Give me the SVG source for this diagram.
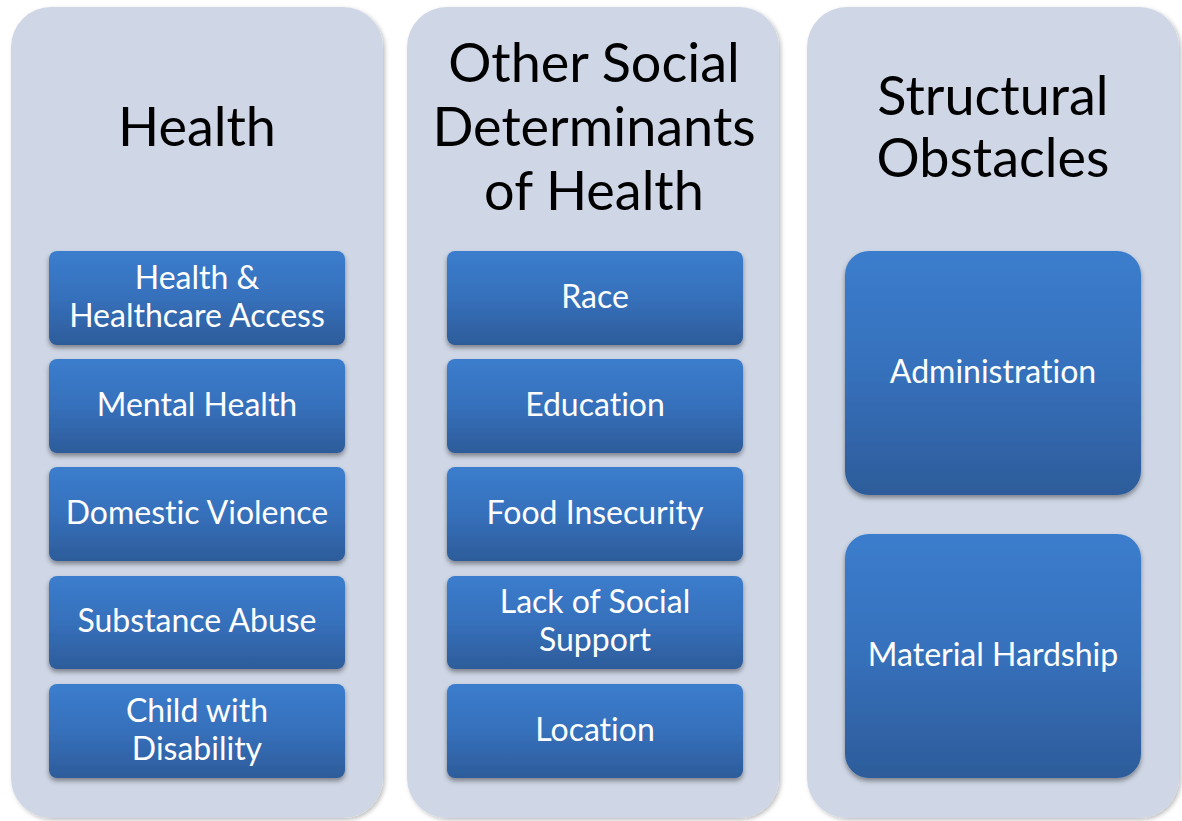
<svg xmlns="http://www.w3.org/2000/svg" width="1182" height="821" viewBox="0 0 1182 821">
  <defs>
    <linearGradient id="boxFill" x1="0" y1="0" x2="0" y2="1">
      <stop offset="0" stop-color="#3b7dcd"/>
      <stop offset="0.5" stop-color="#3670bb"/>
      <stop offset="1" stop-color="#2d5c9a"/>
    </linearGradient>
    <filter id="colShadow" x="-10%" y="-10%" width="120%" height="120%">
      <feDropShadow dx="2" dy="2" stdDeviation="2" flood-color="#000" flood-opacity="0.25"/>
    </filter>
    <filter id="boxShadow" x="-10%" y="-20%" width="120%" height="150%">
      <feDropShadow dx="0" dy="3" stdDeviation="2.5" flood-color="#000" flood-opacity="0.4"/>
    </filter>
  </defs>
  <style>
    .col { fill: #cfd7e6; filter: url(#colShadow); }
    .box { fill: url(#boxFill); filter: url(#boxShadow); }
    .title { font-family: Lato, "Liberation Sans", sans-serif; font-size: 54px; fill: #000; text-anchor: middle; font-variant-ligatures: none; }
    .label { font-family: Lato, "Liberation Sans", sans-serif; font-size: 32px; fill: #fff; text-anchor: middle; font-variant-ligatures: none; }
  </style>
  <rect width="1182" height="821" fill="#ffffff"/>

  <!-- Column 1: Health -->
  <g id="col-health">
    <rect class="col" x="11" y="7" width="372" height="811" rx="40"/>
    <text class="title" x="197" y="146">Health</text>
  </g>
  <g id="n-health-access">
    <rect class="box" x="49" y="251" width="296" height="94" rx="8"/>
    <text class="label" x="197" y="289">Health &amp;</text>
    <text class="label" x="197" y="327">Healthcare Access</text>
  </g>
  <g id="n-mental-health">
    <rect class="box" x="49" y="359" width="296" height="94" rx="8"/>
    <text class="label" x="197" y="416">Mental Health</text>
  </g>
  <g id="n-domestic-violence">
    <rect class="box" x="49" y="467" width="296" height="94" rx="8"/>
    <text class="label" x="197" y="524">Domestic Violence</text>
  </g>
  <g id="n-substance-abuse">
    <rect class="box" x="49" y="576" width="296" height="93" rx="8"/>
    <text class="label" x="197" y="632">Substance Abuse</text>
  </g>
  <g id="n-child-disability">
    <rect class="box" x="49" y="684" width="296" height="94" rx="8"/>
    <text class="label" x="197" y="722">Child with</text>
    <text class="label" x="197" y="760">Disability</text>
  </g>

  <!-- Column 2: Other Social Determinants of Health -->
  <g id="col-social">
    <rect class="col" x="407" y="7" width="372" height="811" rx="40"/>
    <text class="title" x="594" y="82">Other Social</text>
    <text class="title" x="594" y="146">Determinants</text>
    <text class="title" x="594" y="210">of Health</text>
  </g>
  <g id="n-race">
    <rect class="box" x="447" y="251" width="296" height="94" rx="8"/>
    <text class="label" x="595" y="308">Race</text>
  </g>
  <g id="n-education">
    <rect class="box" x="447" y="359" width="296" height="94" rx="8"/>
    <text class="label" x="595" y="416">Education</text>
  </g>
  <g id="n-food-insecurity">
    <rect class="box" x="447" y="467" width="296" height="94" rx="8"/>
    <text class="label" x="595" y="524">Food Insecurity</text>
  </g>
  <g id="n-social-support">
    <rect class="box" x="447" y="576" width="296" height="93" rx="8"/>
    <text class="label" x="595" y="613">Lack of Social</text>
    <text class="label" x="595" y="651">Support</text>
  </g>
  <g id="n-location">
    <rect class="box" x="447" y="684" width="296" height="94" rx="8"/>
    <text class="label" x="595" y="741">Location</text>
  </g>

  <!-- Column 3: Structural Obstacles -->
  <g id="col-structural">
    <rect class="col" x="807" y="7" width="372" height="811" rx="40"/>
    <text class="title" x="993" y="115">Structural</text>
    <text class="title" x="993" y="177">Obstacles</text>
  </g>
  <g id="n-administration">
    <rect class="box" x="845" y="251" width="296" height="244" rx="24"/>
    <text class="label" x="993" y="383">Administration</text>
  </g>
  <g id="n-material-hardship">
    <rect class="box" x="845" y="534" width="296" height="244" rx="24"/>
    <text class="label" x="993" y="666">Material Hardship</text>
  </g>

  <!-- No connectors in this diagram -->
  <g id="connectors"/>
</svg>
